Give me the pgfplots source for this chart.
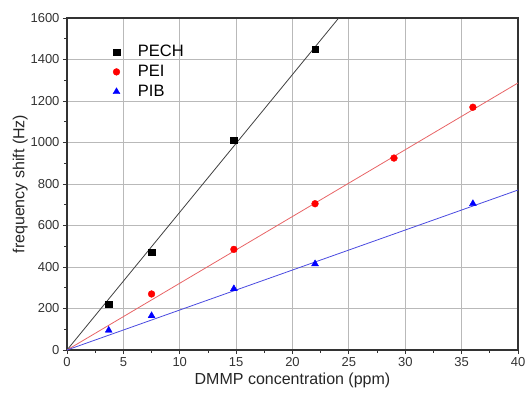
\documentclass[border=0pt]{standalone}
\usepackage{fontspec}
\setmainfont{Liberation Sans}
\usepackage{pgfplots}
\pgfplotsset{compat=1.18}
\definecolor{linered}{HTML}{E86466}
\definecolor{lineblue}{HTML}{4A4AE0}
\begin{document}
\begin{tikzpicture}
\begin{axis}[
  scale only axis,
  width=451pt, height=332pt,
  xmin=0, xmax=40, ymin=0, ymax=1600,
  xtick distance=5, ytick distance=200,
  minor x tick num=1, minor y tick num=1,
  xtick pos=bottom, ytick pos=left,
  tick align=outside,
  major tick length=4pt, minor tick length=2.5pt,
  grid=major,
  major grid style={gray!55, line width=0.8pt},
  axis line style={line width=1.1pt, black!80},
  every tick/.style={black!80, line width=0.8pt},
  /pgf/number format/assume math mode=true,
  /pgf/number format/1000 sep={},
  tick label style={font=\fontsize{13}{15}\selectfont, black!80},
  xlabel={DMMP concentration (ppm)},
  ylabel={frequency shift (Hz)},
  label style={font=\fontsize{16}{18}\selectfont, black!85},
  xlabel style={yshift=1pt},
  ylabel style={yshift=-4pt},
  legend style={at={(0.095,0.93)}, anchor=north west, draw=none, fill=none,
    font=\fontsize{16.5}{18}\selectfont, row sep=3pt, column sep=16pt},
  legend cell align=left,
]
\addplot[forget plot, black!75, line width=0.8pt] coordinates {(0,0) (24.1,1600)};
\addplot[forget plot, linered, line width=0.8pt] coordinates {(0,0) (40,1287)};
\addplot[forget plot, lineblue, line width=0.8pt] coordinates {(0,0) (40,771)};
\addplot[only marks, mark=square*, mark size=3.2pt, black, mark options={fill=black}]
  coordinates {(3.7,220) (7.5,470) (14.8,1010) (22,1450)};
\addlegendentry{PECH}
\addplot[only marks, mark=*, mark size=3.4pt, red, mark options={fill=red}]
  coordinates {(7.5,270) (14.8,485) (22,705) (29,925) (36,1170)};
\addlegendentry{PEI}
\addplot[only marks, mark=triangle*, mark size=4pt, blue, mark options={fill=blue}]
  coordinates {(3.7,95) (7.5,165) (14.8,295) (22,415) (36,705)};
\addlegendentry{PIB}
\end{axis}
\pgfresetboundingbox
\path[use as bounding box] (current axis.south west) ++(-67pt,-42pt) rectangle ++(526pt,392pt);
\end{tikzpicture}
\end{document}
